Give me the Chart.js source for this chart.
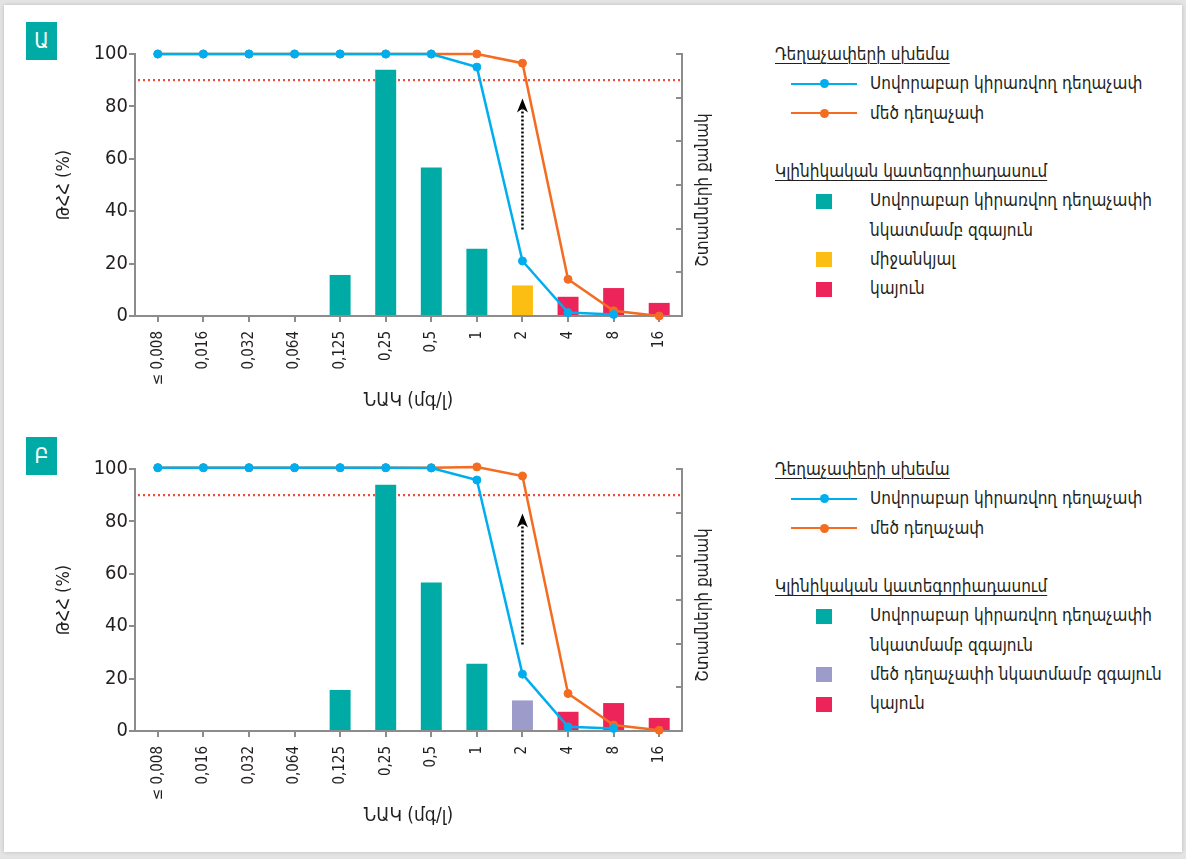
<!DOCTYPE html>
<html>
<head>
<meta charset="utf-8">
<script src="https://cdn.jsdelivr.net/npm/chart.js@4.4.0/dist/chart.umd.min.js"></script>
<style>
  body {
    margin: 0;
    width: 1186px;
    height: 859px;
    overflow: hidden;
    background: #e4e4e4;
    font-family: "DejaVu Sans Condensed", "DejaVu Sans", sans-serif;
    color: #231f20;
  }
  #card {
    position: absolute;
    left: 4px;
    top: 5px;
    width: 1178px;
    height: 847px;
    background: #fff;
    box-shadow: 0 0 4px rgba(0, 0, 0, 0.18);
  }
  .panel { position: absolute; left: 0; width: 1186px; height: 415px; }
  .panel canvas { position: absolute; left: 0; top: 0; }
  .tag {
    position: absolute;
    left: 26px;
    top: 22px;
    width: 31px;
    height: 38px;
    background: #00aba5;
    color: #fff;
    font-size: 21px;
    line-height: 38px;
    text-align: center;
  }
  .legend {
    position: absolute;
    left: 775px;
    top: 40px;
    font-size: 17px;
    line-height: 29.3px;
    white-space: nowrap;
  }
  .legend .hdr {
    text-decoration: underline;
    text-underline-offset: 3px;
    text-decoration-thickness: 1px;
  }
  .legend .row { display: flex; }
  .legend .key { position: relative; flex: none; width: 95px; }
  .legend .line { position: absolute; left: 16px; top: 13.4px; width: 66px; height: 2.5px; }
  .legend .line i {
    position: absolute; left: 28.5px; top: -3.25px;
    width: 9px; height: 9px; border-radius: 50%;
  }
  .legend .box { position: absolute; left: 41px; top: 7.2px; width: 16px; height: 15px; }
</style>
</head>
<body>
<div id="card"></div>

<div class="panel" style="top: 0px">
  <canvas id="chart-a" width="730" height="415"></canvas>
  <div class="tag">Ա</div>
  <div class="legend" id="legend-a"></div>
</div>

<div class="panel" style="top: 415px">
  <canvas id="chart-b" width="730" height="415"></canvas>
  <div class="tag">Բ</div>
  <div class="legend" id="legend-b"></div>
</div>

<script>
// MIC categories (x axis)
const mic = ["≤ 0,008", "0,016", "0,032", "0,064", "0,125", "0,25", "0,5", "1", "2", "4", "8", "16"];

// PTA (%) for each dosing regimen, panel A and panel B
const standardDoseA = [100, 100, 100, 100, 100, 100, 100, 95, 21, 1.3, 0.6, null];
const highDoseA = [100, 100, 100, 100, 100, 100, 100, 100, 96.5, 14, 2, 0];
const standardDoseB = [100.5, 100.5, 100.5, 100.5, 100.5, 100.5, 100.4, 95.8, 21.7, 1.6, 1.0, null];
const highDoseB = [100.5, 100.5, 100.5, 100.5, 100.5, 100.5, 100.5, 100.8, 97.3, 14.3, 2.3, 0.3];

// number of isolates per MIC (right axis, bars)
const isolates = [null, null, null, null, 47, 282, 170, 77, 35, 22, 32, 15];

// clinical category of each MIC
const categoryA = ["S", "S", "S", "S", "S", "S", "S", "S", "I", "R", "R", "R"];
const categoryB = ["S", "S", "S", "S", "S", "S", "S", "S", "SIE", "R", "R", "R"];

// reference line and the standard -> high dose arrow
const targetPta = 90;
const arrowAt = "2";
const arrowFrom = 33;
const arrowTo = 83;

// texts
const yTitle = "ԹՀՀ (%)";
const xTitle = "ՆԱԿ (մգ/լ)";
const y2Title = "Շտամների քանակ";
const regimenTitle = "Դեղաչափերի սխեմա";
const regimenLabels = ["Սովորաբար կիրառվող դեղաչափ", "մեծ դեղաչափ"];
const categoryTitle = "Կլինիկական կատեգորիադասում";
const categoryNames = {
  S: ["Սովորաբար կիրառվող դեղաչափի", "նկատմամբ զգայուն"],
  I: ["միջանկյալ"],
  SIE: ["մեծ դեղաչափի նկատմամբ զգայուն"],
  R: ["կայուն"],
};
const legendOrderA = ["S", "I", "R"];
const legendOrderB = ["S", "SIE", "R"];

// colours
const regimenColors = ["#00aeef", "#f36c21"];
const categoryColors = { S: "#00aba5", I: "#fdbe14", SIE: "#9d9bc9", R: "#ec2459" };
const axisGray = "#8c8c8c";
const textColor = "#231f20";

Chart.defaults.font.family = "'DejaVu Sans Condensed', 'DejaVu Sans', sans-serif";
Chart.defaults.color = textColor;

// dotted 90 % line, dotted arrow and the right axis title
const guides = {
  id: "guides",
  beforeDatasetsDraw(chart) {
    const { ctx, chartArea, scales } = chart;
    const y = scales.y.getPixelForValue(targetPta);
    ctx.save();
    ctx.strokeStyle = "#ef4b37";
    ctx.lineWidth = 2.2;
    ctx.setLineDash([2, 3]);
    ctx.beginPath();
    ctx.moveTo(chartArea.left + 3, y);
    ctx.lineTo(chartArea.right, y);
    ctx.stroke();
    ctx.restore();
  },
  afterDatasetsDraw(chart) {
    const { ctx, scales } = chart;
    const x = scales.x.getPixelForValue(mic.indexOf(arrowAt));
    const yStart = scales.y.getPixelForValue(arrowFrom);
    const yTip = scales.y.getPixelForValue(arrowTo);
    ctx.save();
    ctx.strokeStyle = "#000";
    ctx.lineWidth = 2.5;
    ctx.setLineDash([2, 2]);
    ctx.beginPath();
    ctx.moveTo(x, yStart);
    ctx.lineTo(x, yTip + 10);
    ctx.stroke();
    ctx.setLineDash([]);
    ctx.fillStyle = "#000";
    ctx.beginPath();
    ctx.moveTo(x, yTip);
    ctx.lineTo(x + 5.5, yTip + 14);
    ctx.lineTo(x, yTip + 10);
    ctx.lineTo(x - 5.5, yTip + 14);
    ctx.closePath();
    ctx.fill();
    ctx.restore();
  },
  afterDraw(chart) {
    const { ctx, chartArea } = chart;
    ctx.save();
    ctx.translate(chartArea.right + 22, (chartArea.top + chartArea.bottom) / 2 + 5);
    ctx.rotate(-Math.PI / 2);
    ctx.font = "17px 'DejaVu Sans Condensed', sans-serif";
    ctx.fillStyle = textColor;
    ctx.textAlign = "center";
    ctx.textBaseline = "middle";
    ctx.fillText(y2Title, 0, 0);
    ctx.restore();
  },
};

function lineDataset(label, data, color) {
  return {
    type: "line",
    label: label,
    data: data,
    yAxisID: "y",
    borderColor: color,
    backgroundColor: color,
    pointBackgroundColor: color,
    pointBorderColor: color,
    borderWidth: 2.5,
    pointRadius: 4,
    pointBorderWidth: 1,
    tension: 0,
    clip: false,
  };
}

function buildChart(canvasId, standard, high, category) {
  return new Chart(canvasId, {
    data: {
      labels: mic,
      datasets: [
        lineDataset(regimenLabels[0], standard, regimenColors[0]),
        lineDataset(regimenLabels[1], high, regimenColors[1]),
        {
          type: "bar",
          data: isolates,
          yAxisID: "y2",
          backgroundColor: category.map((c) => categoryColors[c]),
          barPercentage: 0.46,
          categoryPercentage: 1,
        },
      ],
    },
    options: {
      responsive: false,
      animation: false,
      layout: { padding: { top: 54, left: 0, right: 0, bottom: 0 } },
      plugins: { legend: { display: false }, tooltip: { enabled: false } },
      scales: {
        x: {
          offset: true,
          grid: { offset: false, drawOnChartArea: false, tickLength: 6, color: axisGray, lineWidth: 2 },
          border: { color: axisGray, width: 2 },
          ticks: { autoSkip: false, minRotation: 90, maxRotation: 90, padding: 9, font: { size: 15 } },
          title: { display: true, text: xTitle, font: { size: 19 }, padding: { top: 0, bottom: 3 } },
          afterFit: (s) => { s.height = 99; },
        },
        y: {
          min: 0,
          max: 100,
          ticks: { stepSize: 20, padding: 1, font: { size: 20 } },
          grid: { drawOnChartArea: false, tickLength: 6, color: axisGray, lineWidth: 2 },
          border: { color: axisGray, width: 2 },
          title: { display: true, text: yTitle, font: { size: 18 }, padding: { top: 54, bottom: 0 } },
          afterFit: (s) => { s.width = 135; },
        },
        y2: {
          position: "right",
          min: 0,
          max: 300,
          ticks: { display: false, stepSize: 50 },
          grid: { drawOnChartArea: false, tickLength: -6, color: axisGray, lineWidth: 2 },
          border: { color: axisGray, width: 2 },
          afterFit: (s) => { s.width = 48; },
        },
      },
    },
    plugins: [guides],
  });
}

function buildLegend(id, order) {
  // two groups: dosing regimen (lines) and clinical category (bars)
  let html = `<div class="hdr">${regimenTitle}</div>`;
  regimenLabels.forEach((label, i) => {
    html += `<div class="row"><span class="key"><span class="line" style="background:${regimenColors[i]}"><i style="background:${regimenColors[i]}"></i></span></span><span>${label}</span></div>`;
  });
  html += `<div>&nbsp;</div><div class="hdr">${categoryTitle}</div>`;
  order.forEach((c) => {
    html += `<div class="row"><span class="key"><span class="box" style="background:${categoryColors[c]}"></span></span><span>${categoryNames[c].join("<br>")}</span></div>`;
  });
  document.getElementById(id).innerHTML = html;
}

buildChart("chart-a", standardDoseA, highDoseA, categoryA);
buildChart("chart-b", standardDoseB, highDoseB, categoryB);
buildLegend("legend-a", legendOrderA);
buildLegend("legend-b", legendOrderB);
</script>
</body>
</html>
